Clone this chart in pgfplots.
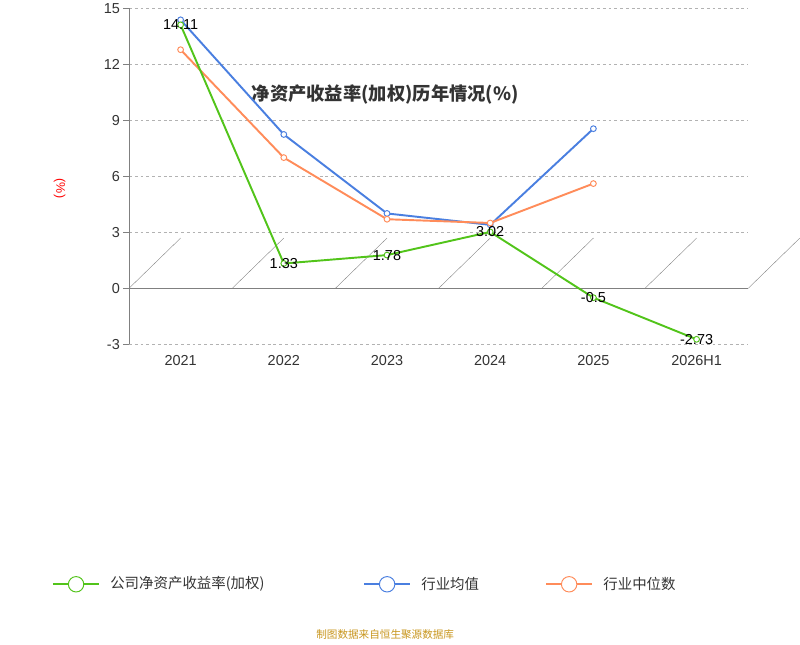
\documentclass[border=0pt]{standalone}
\usepackage{pgfplots}
\pgfplotsset{compat=1.18}
\usepackage{fontspec}
\setmainfont{Liberation Sans}
\newfontfamily\cjk{Noto Sans CJK SC}
\definecolor{cg}{HTML}{52C41A}
\definecolor{cb}{HTML}{4A7FE0}
\definecolor{co}{HTML}{FF8C5A}
\definecolor{tx}{HTML}{333333}
\definecolor{ft}{RGB}{200,150,30}
\begin{document}
\begin{tikzpicture}[x=1pt,y=1pt]
\path (0,0) rectangle (800,600);
\node[font=\cjk\bfseries\fontsize{19}{22}\selectfont,text=tx] at (400,572) {净资产收益率(加权)历年情况(\%)};
\node[font=\fontsize{13}{15}\selectfont,text=red,rotate=-90] at (62,474) {(\%)};
\begin{axis}[at={(125,161)},anchor=south west,scale only axis,width=643,height=349,
 xmin=-0.5,xmax=5.5,ymin=-3,ymax=15,
 ytick={-3,0,3,6,9,12,15},
 xtick={0,1,2,3,4,5},xticklabels={2021,2022,2023,2024,2025,2026H1},
 axis y line*=left, axis x line*=bottom,
 x axis line style={draw=none,-},
 y axis line style={draw=gray,-},
 major x tick style={draw=none},
 major y tick style={draw=gray}, tick align=outside, major tick length=6pt,
 ymajorgrids, grid style={dashed,gray!60},
 ticklabel style={font=\fontsize{15}{17}\selectfont,text=tx},
 /pgf/number format/assume math mode=true,
 xticklabel style={yshift=-2pt},
 clip=false,
 every axis plot/.append style={line width=2pt,mark=*,mark size=3pt,mark options={fill=white,line width=1pt}}
]
\draw[gray,line width=1pt] (axis cs:-0.5,0) -- (axis cs:5.5,0);
\draw[gray] (axis cs:-0.5,0) -- ++(0,-6pt);
\draw[gray] (axis cs:0.5,0) -- ++(0,-6pt);
\draw[gray] (axis cs:1.5,0) -- ++(0,-6pt);
\draw[gray] (axis cs:2.5,0) -- ++(0,-6pt);
\draw[gray] (axis cs:3.5,0) -- ++(0,-6pt);
\draw[gray] (axis cs:4.5,0) -- ++(0,-6pt);
\draw[gray] (axis cs:5.5,0) -- ++(0,-6pt);
\addplot[cb] coordinates {(0,14.38)(1,8.24)(2,4.01)(3,3.4)(4,8.55)};
\addplot[co] coordinates {(0,12.78)(1,7.0)(2,3.7)(3,3.5)(4,5.61)};
\addplot[cg,nodes near coords,point meta=explicit symbolic,
 every node near coord/.style={font=\fontsize{15}{17}\selectfont,text=black,anchor=center}]
 coordinates {(0,14.11)[14.11] (1,1.33)[1.33] (2,1.78)[1.78] (3,3.02)[3.02] (4,-0.5)[-0.5] (5,-2.73)[-2.73]};
\end{axis}
\draw[cg,line width=2pt] (55,63)--(103,63); \draw[cg,fill=white,line width=1pt] (79,63) circle (8);
\node[anchor=west,font=\cjk\fontsize{15}{17}\selectfont,text=tx] at (111,63) {公司净资产收益率(加权)};
\draw[cb,line width=2pt] (378,63)--(426,63); \draw[cb,fill=white,line width=1pt] (402,63) circle (8);
\node[anchor=west,font=\cjk\fontsize{15}{17}\selectfont,text=tx] at (434,63) {行业均值};
\draw[co,line width=2pt] (567,63)--(615,63); \draw[co,fill=white,line width=1pt] (591,63) circle (8);
\node[anchor=west,font=\cjk\fontsize{15}{17}\selectfont,text=tx] at (623,63) {行业中位数};
\node[font=\cjk\fontsize{11}{13}\selectfont,text=ft] at (400,11) {制图数据来自恒生聚源数据库};
\end{tikzpicture}
\end{document}
